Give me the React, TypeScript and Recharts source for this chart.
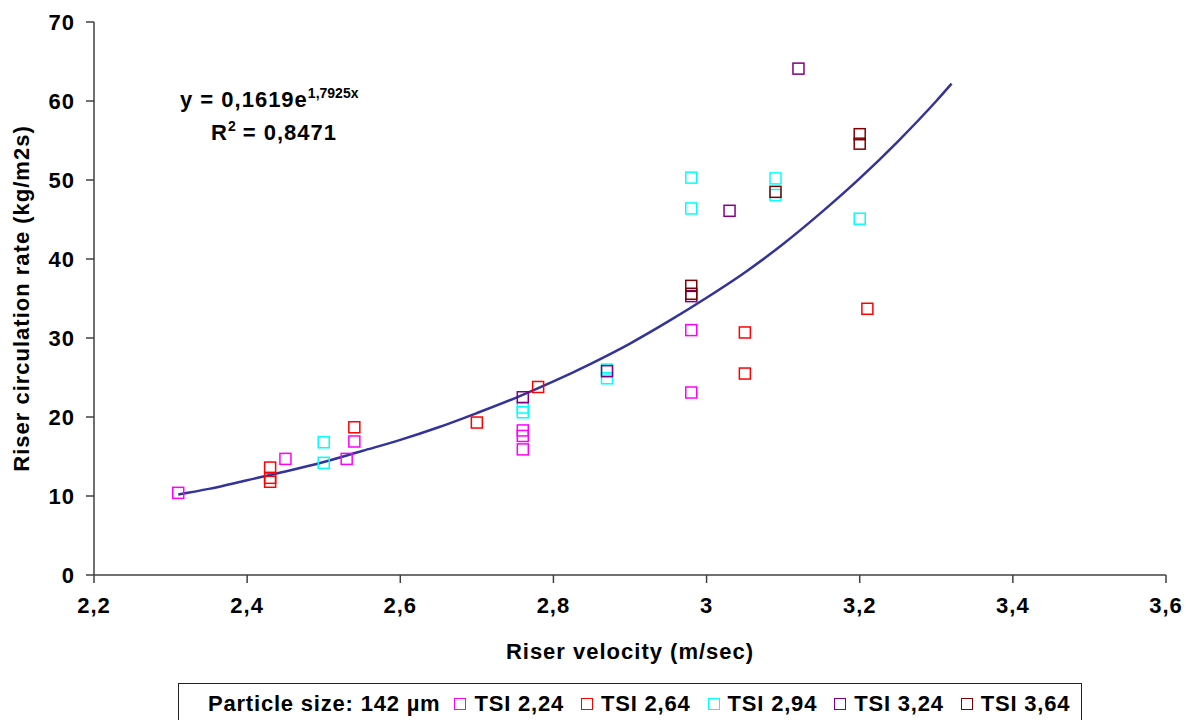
import {
  ComposedChart,
  Scatter,
  Line,
  XAxis,
  YAxis,
  Legend,
} from "recharts";

// measured points, one array per TSI series (x = riser velocity, y = circulation rate)
const TSI_224 = [
  { x: 2.31, y: 10.4 },
  { x: 2.45, y: 14.7 },
  { x: 2.53, y: 14.7 },
  { x: 2.54, y: 16.9 },
  { x: 2.76, y: 18.3 },
  { x: 2.76, y: 17.6 },
  { x: 2.76, y: 15.9 },
  { x: 2.98, y: 31.0 },
  { x: 2.98, y: 23.1 },
];
const TSI_264 = [
  { x: 2.43, y: 13.6 },
  { x: 2.43, y: 12.3 },
  { x: 2.43, y: 11.8 },
  { x: 2.54, y: 18.7 },
  { x: 2.7, y: 19.3 },
  { x: 2.78, y: 23.8 },
  { x: 3.05, y: 30.7 },
  { x: 3.05, y: 25.5 },
  { x: 3.21, y: 33.7 },
];
const TSI_294 = [
  { x: 2.5, y: 16.8 },
  { x: 2.5, y: 14.2 },
  { x: 2.76, y: 21.2 },
  { x: 2.76, y: 20.6 },
  { x: 2.87, y: 26.0 },
  { x: 2.87, y: 24.9 },
  { x: 2.98, y: 50.3 },
  { x: 2.98, y: 46.4 },
  { x: 3.09, y: 50.2 },
  { x: 3.09, y: 48.1 },
  { x: 3.2, y: 45.1 },
];
const TSI_324 = [
  { x: 2.76, y: 22.5 },
  { x: 2.87, y: 25.8 },
  { x: 2.98, y: 35.3 },
  { x: 3.03, y: 46.1 },
  { x: 3.12, y: 64.1 },
];
const TSI_364 = [
  { x: 2.98, y: 36.6 },
  { x: 2.98, y: 35.6 },
  { x: 3.09, y: 48.5 },
  { x: 3.2, y: 55.8 },
  { x: 3.2, y: 54.6 },
];

// exponential trend line
const TREND = [
  { x: 2.31, y: 10.2 },
  { x: 2.35, y: 10.9 },
  { x: 2.4, y: 12.0 },
  { x: 2.45, y: 13.1 },
  { x: 2.5, y: 14.3 },
  { x: 2.55, y: 15.7 },
  { x: 2.6, y: 17.1 },
  { x: 2.65, y: 18.7 },
  { x: 2.7, y: 20.5 },
  { x: 2.75, y: 22.4 },
  { x: 2.8, y: 24.5 },
  { x: 2.85, y: 26.8 },
  { x: 2.9, y: 29.3 },
  { x: 2.95, y: 32.1 },
  { x: 3.0, y: 35.1 },
  { x: 3.05, y: 38.3 },
  { x: 3.1, y: 41.9 },
  { x: 3.15, y: 45.9 },
  { x: 3.2, y: 50.2 },
  { x: 3.25, y: 54.9 },
  { x: 3.3, y: 60.0 },
  { x: 3.32, y: 62.2 },
];

const X_TICKS = [2.2, 2.4, 2.6, 2.8, 3.0, 3.2, 3.4, 3.6];
const Y_TICKS = [0, 10, 20, 30, 40, 50, 60, 70];

const SERIES = [
  { name: "TSI 2,24", data: TSI_224, color: "#FF00FF" },
  { name: "TSI 2,64", data: TSI_264, color: "#FF0000" },
  { name: "TSI 2,94", data: TSI_294, color: "#00FFFF" },
  { name: "TSI 3,24", data: TSI_324, color: "#800080" },
  { name: "TSI 3,64", data: TSI_364, color: "#800000" },
];

const FONT = "Arial, 'Liberation Sans', sans-serif";
const AXIS = "#404040";
// the source text is a little wide, letterSpacing stands in for that
const tickStyle = {
  fill: "#000",
  fontSize: 22,
  fontWeight: 700,
  fontFamily: FONT,
  letterSpacing: 1,
};

const comma = (v: number) => String(v).replace(".", ",");

const squareShape = (color: string) => (props: any) =>
  (
    <rect
      x={props.cx - 5.5}
      y={props.cy - 5.5}
      width={11}
      height={11}
      fill="none"
      stroke={color}
      strokeWidth={1.5}
    />
  );

function LegendBox() {
  return (
    <div
      style={{
        border: "1.5px solid #222",
        borderBottom: "none",
        height: 40,
        boxSizing: "border-box",
        display: "flex",
        alignItems: "center",
        paddingLeft: 29,
        fontFamily: FONT,
        fontWeight: 700,
        fontSize: 22,
        letterSpacing: 0.8,
        color: "#000",
        whiteSpace: "nowrap",
      }}
    >
      <span style={{ marginRight: 14 }}>Particle size: 142 µm</span>
      {SERIES.map((s) => (
        <span
          key={s.name}
          style={{ display: "flex", alignItems: "center", marginRight: 17 }}
        >
          <span
            style={{
              width: 10,
              height: 10,
              border: `1.5px solid ${s.color}`,
              marginRight: 8,
              display: "inline-block",
            }}
          />
          {s.name}
        </span>
      ))}
    </div>
  );
}

export default function App() {
  return (
    <div style={{ position: "relative", width: 1192, height: 720 }}>
      <style>{`body{margin:0;background:#fff}`}</style>
      <ComposedChart
        width={1192}
        height={720}
        margin={{ top: 22, right: 26, left: 0, bottom: 0 }}
      >
        <XAxis
          type="number"
          dataKey="x"
          domain={[2.2, 3.6]}
          ticks={X_TICKS}
          tickFormatter={comma}
          allowDataOverflow
          height={145}
          tick={tickStyle}
          tickSize={8}
          tickMargin={14}
          stroke={AXIS}
          strokeWidth={1.5}
          label={({ viewBox }: any) => (
            <text
              x={viewBox.x + viewBox.width / 2}
              y={659}
              textAnchor="middle"
              style={tickStyle}
            >
              Riser velocity (m/sec)
            </text>
          )}
        />
        <YAxis
          type="number"
          dataKey="y"
          domain={[0, 70]}
          ticks={Y_TICKS}
          width={94}
          tick={tickStyle}
          tickSize={8}
          tickMargin={11}
          stroke={AXIS}
          strokeWidth={1.5}
          label={({ viewBox }: any) => {
            const cy = viewBox.y + viewBox.height / 2;
            return (
              <text
                x={29}
                y={cy}
                textAnchor="middle"
                transform={`rotate(-90 29 ${cy})`}
                style={tickStyle}
              >
                Riser circulation rate (kg/m2s)
              </text>
            );
          }}
        />
        <Legend
          layout="vertical"
          align="center"
          verticalAlign="middle"
          wrapperStyle={{ position: "absolute", left: 178, top: 683, width: 904 }}
          content={() => <LegendBox />}
        />
        <Line
          data={TREND}
          dataKey="y"
          type="monotone"
          stroke="#333399"
          strokeWidth={2.5}
          dot={false}
          activeDot={false}
          legendType="none"
          isAnimationActive={false}
        />
        {SERIES.map((s) => (
          <Scatter
            key={s.name}
            name={s.name}
            data={s.data}
            dataKey="y"
            shape={squareShape(s.color)}
            isAnimationActive={false}
          />
        ))}
        <text x={180} y={107} style={tickStyle}>
          y = 0,1619e
          <tspan dy={-9} fontSize={14} letterSpacing={0}>
            1,7925x
          </tspan>
        </text>
        <text x={211} y={140} style={tickStyle}>
          R
          <tspan dy={-9} fontSize={14} letterSpacing={0}>
            2
          </tspan>
          <tspan dy={9}> = 0,8471</tspan>
        </text>
      </ComposedChart>
    </div>
  );
}
